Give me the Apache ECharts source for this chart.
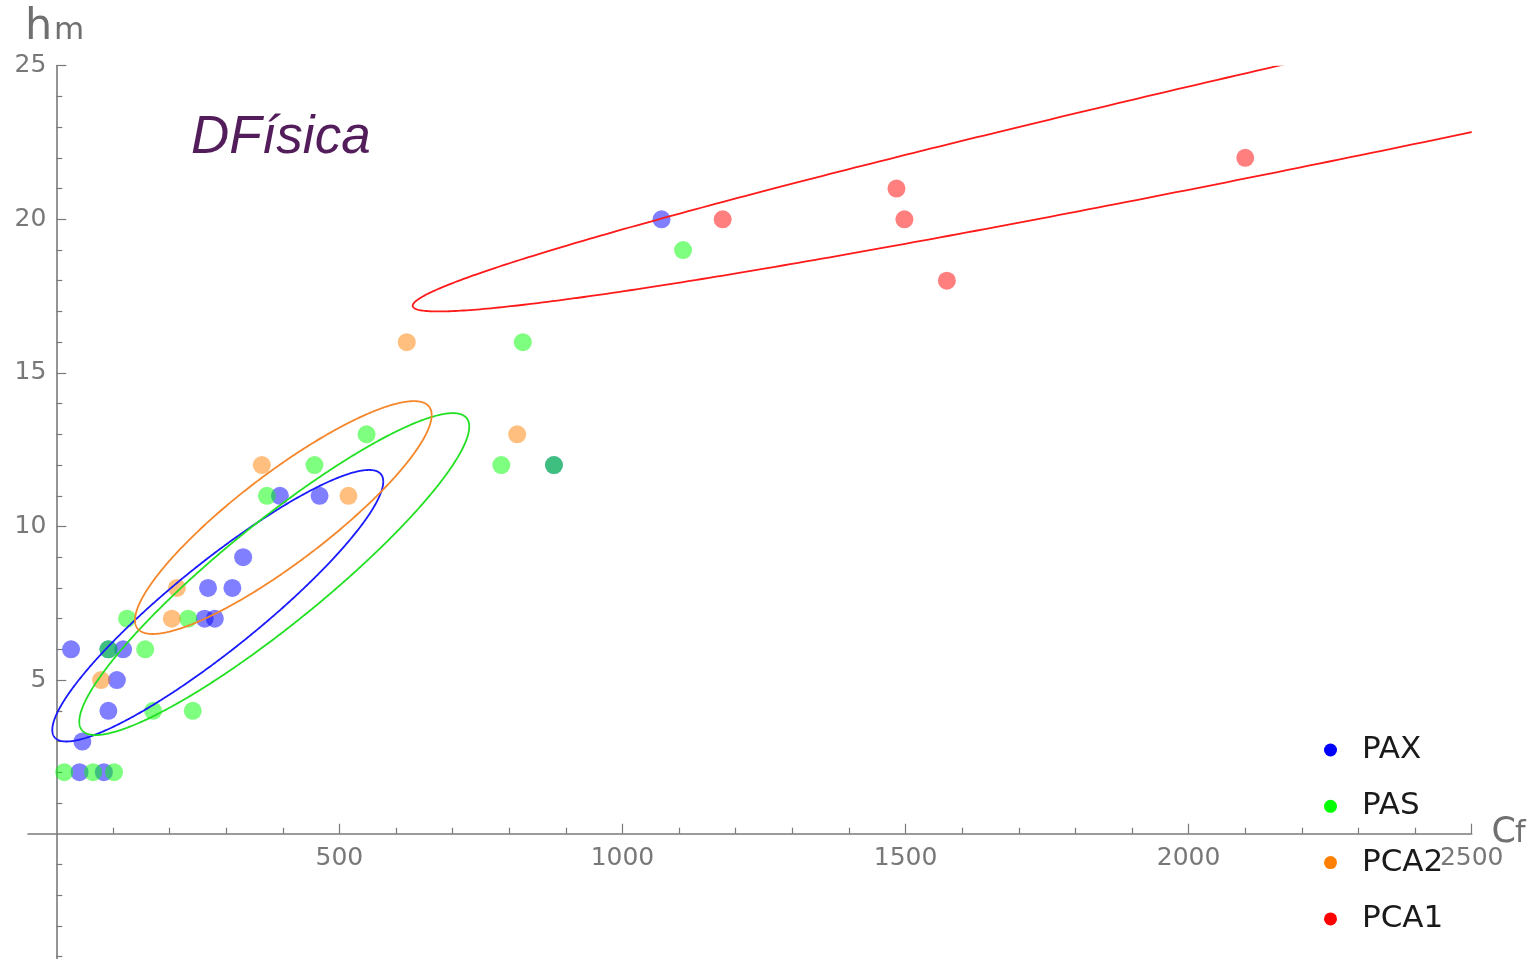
<!DOCTYPE html>
<html><head><meta charset="utf-8">
<script src="https://cdn.jsdelivr.net/npm/echarts@6/dist/echarts.min.js"></script>
<style>html,body{margin:0;padding:0;background:#fff}#c{width:1534px;height:959px}</style>
</head><body><div id="c"></div>
<script>
// ---- data ----
const seriesNames = ['PAX', 'PAS', 'PCA2', 'PCA1'];
const paxPoints = [[26,6],[46,3],[41,2],[84,2],[92,4],[107,5],[92,6],[118,6],[262,7],[280,7],[268,8],[311,8],[330,9],[395,11],[465,11],[879,12],[1069,20]];
const pasPoints = [[14,2],[65,2],[102,2],[171,4],[241,4],[92,6],[157,6],[125,7],[233,7],[372,11],[456,12],[548,13],[786,12],[879,12],[824,16],[1107,19]];
const pca2Points = [[79,5],[204,7],[213,8],[363,12],[516,11],[619,16],[814,13]];
const pca1Points = [[1177,20],[1484,21],[1498,20],[1573,18],[2100,22]];
// ellipses: [centerX, centerY, spreadX, spreadY, correlation]
const paxEllipse = [285.2, 7.42, 292.3, 4.42, 0.914];
const pasEllipse = [385.0, 8.45, 344.4, 5.24, 0.916];
const pca2Ellipse = [401.0, 10.29, 262.0, 3.79, 0.88];
const pca1Ellipse = [2814, 25.88, 2184.5, 8.88, 0.979];
// axis ranges and ticks
const xRange = [-50, 2500];
const yRange = [-4.08, 25];
const xMajorTicks = [500, 1000, 1500, 2000, 2500];
const xMinorTicks = [100,200,300,400,600,700,800,900,1100,1200,1300,1400,1600,1700,1800,1900,2100,2200,2300,2400];
const yMajorTicks = [5, 10, 15, 20, 25];
const yMinorTicks = [-4,-3,-2,-1,1,2,3,4,6,7,8,9,11,12,13,14,16,17,18,19,21,22,23,24];

const pointColors = ['#0000ff', '#00ff00', '#ff8000', '#ff0000'];
const lineColors = ['#1a1aff', '#22e022', '#f5862a', '#ff1a1a'];
const axisGray = '#7a7a7a';
const labelGray = '#787878';

const chart = echarts.init(document.getElementById('c'), null, {renderer: 'canvas'});

function ellipseRender(params, api) {
  const cx = api.value(0), cy = api.value(1), sx = api.value(2), sy = api.value(3), r = api.value(4);
  const k = Math.sqrt(1 - r * r);
  const pts = [];
  const n = 720;
  for (let i = 0; i <= n; i++) {
    const t = 2 * Math.PI * i / n;
    pts.push(api.coord([cx + sx * Math.cos(t), cy + sy * (r * Math.cos(t) + k * Math.sin(t))]));
  }
  const cs = params.coordSys;
  return {
    type: 'polyline',
    shape: {points: pts},
    style: {stroke: api.visual('color'), lineWidth: 1.8, fill: null},
    clipPath: {type: 'rect', shape: {x: cs.x, y: cs.y, width: cs.width, height: cs.height}}
  };
}

const pointSets = [paxPoints, pasPoints, pca2Points, pca1Points];
const ellipseSets = [paxEllipse, pasEllipse, pca2Ellipse, pca1Ellipse];

const series = [];
seriesNames.forEach((nm, i) => {
  series.push({
    name: nm, type: 'scatter', data: pointSets[i], symbolSize: 18,
    xAxisIndex: 0, yAxisIndex: 0,
    itemStyle: {color: pointColors[i], opacity: 0.5}, z: 2
  });
});
seriesNames.forEach((nm, i) => {
  series.push({
    name: nm + ' region', type: 'custom', renderItem: ellipseRender,
    xAxisIndex: 0, yAxisIndex: 0,
    data: [ellipseSets[i]], encode: {x: 0, y: 1},
    itemStyle: {color: lineColors[i]}, z: 3, silent: true
  });
});

const labelFont = {fontFamily: 'DejaVu Sans', fontSize: 25, color: labelGray};
const hidden = {show: false};
const gridCommon = {outerBoundsMode: 'none', containLabel: false};

chart.setOption({
  animation: false,
  backgroundColor: '#ffffff',
  grid: [
    Object.assign({left: 28, right: 62.3, top: 65.7, bottom: 0}, gridCommon),      // data area
    Object.assign({left: 28, right: 62.3, top: 65.7, bottom: 125.3}, gridCommon),  // x axis sits on y = 0
    Object.assign({left: 56.3, right: 62.3, top: 65.7, bottom: 0}, gridCommon)     // y axis sits on x = 0
  ],
  xAxis: [
    {type: 'value', gridIndex: 0, min: xRange[0], max: xRange[1], axisLine: hidden, axisTick: hidden, axisLabel: hidden, splitLine: hidden},
    {
      type: 'value', gridIndex: 1, min: xRange[0], max: xRange[1], position: 'bottom',
      axisLine: {show: true, onZero: false, lineStyle: {color: axisGray, width: 1.6}},
      axisTick: {show: true, inside: true, length: 10, customValues: xMajorTicks, lineStyle: {color: axisGray, width: 1.2}},
      axisLabel: Object.assign({show: true, margin: 12, customValues: xMajorTicks, formatter: v => String(v)}, labelFont),
      splitLine: hidden
    },
    {
      type: 'value', gridIndex: 1, min: xRange[0], max: xRange[1], position: 'bottom',
      axisLine: {show: false, onZero: false},
      axisTick: {show: true, inside: true, length: 6, customValues: xMinorTicks, lineStyle: {color: axisGray, width: 1.2}},
      axisLabel: hidden, splitLine: hidden
    },
    {type: 'value', gridIndex: 2, min: 0, max: xRange[1], axisLine: hidden, axisTick: hidden, axisLabel: hidden, splitLine: hidden}
  ],
  yAxis: [
    {type: 'value', gridIndex: 0, min: yRange[0], max: yRange[1], axisLine: hidden, axisTick: hidden, axisLabel: hidden, splitLine: hidden},
    {type: 'value', gridIndex: 1, min: 0, max: yRange[1], axisLine: hidden, axisTick: hidden, axisLabel: hidden, splitLine: hidden},
    {
      type: 'value', gridIndex: 2, min: yRange[0], max: yRange[1], position: 'left',
      axisLine: {show: true, onZero: false, lineStyle: {color: axisGray, width: 1.6}},
      axisTick: {show: true, inside: true, length: 10, customValues: yMajorTicks, lineStyle: {color: axisGray, width: 1.2}},
      axisLabel: Object.assign({show: true, margin: 10, customValues: yMajorTicks, formatter: v => String(v)}, labelFont),
      splitLine: hidden
    },
    {
      type: 'value', gridIndex: 2, min: yRange[0], max: yRange[1], position: 'left',
      axisLine: {show: false, onZero: false},
      axisTick: {show: true, inside: true, length: 6, customValues: yMinorTicks, lineStyle: {color: axisGray, width: 1.2}},
      axisLabel: hidden, splitLine: hidden
    }
  ],
  legend: {
    orient: 'vertical', left: 1319, top: 729.5, itemWidth: 53, itemHeight: 13, itemGap: 25.3,
    icon: 'circle', selectedMode: false,
    textStyle: {fontFamily: 'DejaVu Sans', fontSize: 31, color: '#1a1a1a', lineHeight: 30},
    data: seriesNames.map((nm, i) => ({name: nm, itemStyle: {color: pointColors[i], opacity: 1}}))
  },
  graphic: [
    {type: 'text', x: 25, y: 27.5, style: {text: 'h', font: '43px "DejaVu Sans"', fill: '#707070', verticalAlign: 'middle'}},
    {type: 'text', x: 54, y: 31.3, style: {text: 'm', font: '31px "DejaVu Sans"', fill: '#707070', verticalAlign: 'middle'}},
    {type: 'text', x: 1491.6, y: 833.2, style: {text: 'C', font: '35px "DejaVu Sans"', fill: '#707070', verticalAlign: 'middle'}},
    {type: 'text', x: 1515, y: 834.5, style: {text: 'f', font: '30px "DejaVu Sans"', fill: '#707070', verticalAlign: 'middle'}},
    {type: 'text', x: 191, y: 138.5, style: {text: 'DFísica', font: 'italic 53px "Liberation Sans"', fill: '#521d5a', verticalAlign: 'middle'}}
  ],
  series: series
});
</script>
</body></html>
